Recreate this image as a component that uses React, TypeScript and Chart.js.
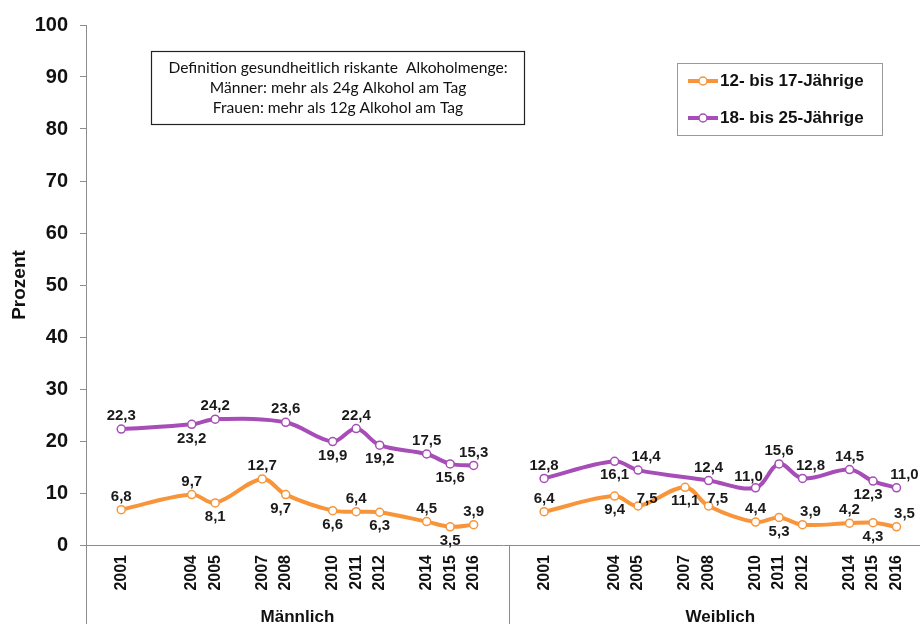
import React, { useEffect, useRef } from "react";
import { Chart, registerables } from "chart.js";

Chart.register(...registerables);

// ---------- data ----------
const years = [2001, 2004, 2005, 2007, 2008, 2010, 2011, 2012, 2014, 2015, 2016];
const groups = ["Männlich", "Weiblich"];
const groupSpan = 18; // years between the two groups on the shared axis
const seriesNames = ["12- bis 17-Jährige", "18- bis 25-Jährige"];
const young_m = [6.8, 9.7, 8.1, 12.7, 9.7, 6.6, 6.4, 6.3, 4.5, 3.5, 3.9];
const young_w = [6.4, 9.4, 7.5, 11.1, 7.5, 4.4, 5.3, 3.9, 4.2, 4.3, 3.5];
const adult_m = [22.3, 23.2, 24.2, null, 23.6, 19.9, 22.4, 19.2, 17.5, 15.6, 15.3];
const adult_w = [12.8, 16.1, 14.4, null, 12.4, 11.0, 15.6, 12.8, 14.5, 12.3, 11.0];
const yTickValues = [0, 10, 20, 30, 40, 50, 60, 70, 80, 90, 100];
const noteLines = [
  "Definition gesundheitlich riskante  Alkoholmenge:",
  "Männer: mehr als 24g Alkohol am Tag",
  "Frauen: mehr als 12g Alkohol am Tag",
];

// ---------- label placement (style) ----------
const young_m_pos = ["t", "t", "b", "t", "bl", "b", "t", "b", "t", "b", "t"];
const young_w_pos = ["t", "b", "r", "b", "r", "t", "b", "tr", "t", "b", "tr"];
const adult_m_pos = ["t", "b", "t", "-", "t", "b", "t", "b", "t", "b", "t"];
const adult_w_pos = ["t", "b", "tr", "-", "t", "tl", "t", "tr", "t", "bl", "tr"];
const OFFSETS: Record<string, [number, number]> = {
  t: [0, -13],
  b: [0, 14],
  tr: [8, -13],
  tl: [-7, -11],
  bl: [-5, 14],
  r: [9, -7],
};

const ORANGE = "#F8953A";
const PURPLE = "#A64DB7";
const AXIS = "#8c8c8c";
const FONT = "'Liberation Sans', Arial, sans-serif";

function buildPoints(vals: (number | null)[], pos: string[], offset: number) {
  const data: { x: number; y: number }[] = [];
  const labelPos: string[] = [];
  vals.forEach((v, i) => {
    if (v === null) return;
    data.push({ x: years[i] + offset, y: v });
    labelPos.push(pos[i]);
  });
  return { data, labelPos };
}

const fmt = (v: number) => v.toFixed(1).replace(".", ",");

export default function App() {
  const ref = useRef<HTMLCanvasElement | null>(null);

  useEffect(() => {
    if (!ref.current) return;
    const mk = (
      vals: (number | null)[],
      pos: string[],
      offset: number,
      color: string,
      label: string
    ) => {
      const { data, labelPos } = buildPoints(vals, pos, offset);
      return {
        label,
        data,
        labelPos,
        borderColor: color,
        backgroundColor: color,
        borderWidth: 4,
        tension: 0.35,
        pointRadius: 4,
        pointBorderWidth: 1.5,
        pointBackgroundColor: "#ffffff",
        pointBorderColor: color,
        fill: false,
      } as any;
    };

    const tickValues: number[] = [];
    groups.forEach((_, g) => years.forEach((y) => tickValues.push(y + g * groupSpan)));

    const xMin = years[0] - 1.5;
    const xMax = years[years.length - 1] + groupSpan + 1;

    const overlay = {
      id: "overlay",
      afterDraw(chart: any) {
        const ctx = chart.ctx as CanvasRenderingContext2D;
        const xs = chart.scales.x;
        const ca = chart.chartArea;
        ctx.save();
        // axis extension and group divider
        ctx.strokeStyle = AXIS;
        ctx.lineWidth = 1;
        ctx.beginPath();
        ctx.moveTo(Math.round(ca.left) + 0.5, ca.bottom);
        ctx.lineTo(Math.round(ca.left) + 0.5, chart.height);
        const divX = Math.round(xs.getPixelForValue(years[years.length - 1] + 1.5)) + 0.5;
        ctx.moveTo(divX, ca.bottom);
        ctx.lineTo(divX, chart.height);
        ctx.stroke();

        // group labels
        ctx.fillStyle = "#111";
        ctx.font = `bold 17px ${FONT}`;
        ctx.textAlign = "center";
        ctx.textBaseline = "alphabetic";
        groups.forEach((g, i) => {
          const mid = (years[0] + years[years.length - 1]) / 2 + i * groupSpan;
          ctx.fillText(g, xs.getPixelForValue(mid), 622);
        });

        // data labels
        ctx.font = `bold 15px ${FONT}`;
        ctx.textBaseline = "middle";
        ctx.fillStyle = "#1a1a1a";
        chart.data.datasets.forEach((ds: any, di: number) => {
          const meta = chart.getDatasetMeta(di);
          meta.data.forEach((el: any, i: number) => {
            const [ox, oy] = OFFSETS[ds.labelPos[i]] || [0, -13];
            ctx.fillText(fmt(ds.data[i].y), el.x + ox, el.y + oy);
          });
        });

        // note box
        const nb = { x: 151.5, y: 51.5, w: 373, h: 73 };
        ctx.fillStyle = "#fff";
        ctx.fillRect(nb.x, nb.y, nb.w, nb.h);
        ctx.strokeStyle = "#222";
        ctx.lineWidth = 1.2;
        ctx.strokeRect(nb.x, nb.y, nb.w, nb.h);
        ctx.fillStyle = "#111";
        ctx.font = `15.6px Lato, 'Open Sans', sans-serif`;
        ctx.textAlign = "center";
        ctx.textBaseline = "middle";
        noteLines.forEach((t, i) => ctx.fillText(t, nb.x + nb.w / 2, 68 + i * 20));

        // legend box
        const lb = { x: 677.5, y: 63.5, w: 205, h: 72 };
        ctx.fillStyle = "#fff";
        ctx.fillRect(lb.x, lb.y, lb.w, lb.h);
        ctx.strokeStyle = "#999";
        ctx.lineWidth = 1;
        ctx.strokeRect(lb.x, lb.y, lb.w, lb.h);
        const colors = [ORANGE, PURPLE];
        seriesNames.forEach((name, i) => {
          const cy = 81 + i * 37;
          ctx.strokeStyle = colors[i];
          ctx.lineWidth = 4;
          ctx.beginPath();
          ctx.moveTo(688, cy);
          ctx.lineTo(718, cy);
          ctx.stroke();
          ctx.beginPath();
          ctx.arc(703, cy, 4, 0, Math.PI * 2);
          ctx.fillStyle = "#fff";
          ctx.fill();
          ctx.lineWidth = 1.5;
          ctx.stroke();
          ctx.fillStyle = "#111";
          ctx.font = `bold 17px ${FONT}`;
          ctx.textAlign = "left";
          ctx.textBaseline = "middle";
          ctx.fillText(name, 720, cy);
        });
        ctx.restore();
      },
    };

    const chart = new Chart(ref.current, {
      type: "line",
      data: {
        datasets: [
          mk(young_m, young_m_pos, 0, ORANGE, seriesNames[0]),
          mk(young_w, young_w_pos, groupSpan, ORANGE, seriesNames[0]),
          mk(adult_m, adult_m_pos, 0, PURPLE, seriesNames[1]),
          mk(adult_w, adult_w_pos, groupSpan, PURPLE, seriesNames[1]),
        ],
      },
      options: {
        responsive: false,
        animation: false,
        layout: { autoPadding: false, padding: { top: 25, right: 0, left: 0, bottom: 0 } },
        plugins: { legend: { display: false }, tooltip: { enabled: false } },
        scales: {
          x: {
            type: "linear",
            min: xMin,
            max: xMax,
            afterBuildTicks: (scale: any) => {
              scale.ticks = tickValues.map((v) => ({ value: v }));
            },
            afterFit: (scale: any) => {
              scale.height = 79;
              scale.paddingLeft = 0;
              scale.paddingRight = 0;
            },
            ticks: {
              autoSkip: false,
              minRotation: 90,
              maxRotation: 90,
              padding: 10,
              color: "#111",
              font: { family: FONT, size: 16, weight: "bold" },
              callback: (v: any) => String(v > years[years.length - 1] + 1 ? v - groupSpan : v),
            },
            grid: { display: false, drawTicks: false },
            border: { display: true, color: AXIS, width: 1 },
          },
          y: {
            min: 0,
            max: 100,
            afterBuildTicks: (scale: any) => {
              scale.ticks = yTickValues.map((v) => ({ value: v }));
            },
            afterFit: (scale: any) => {
              scale.width = 86;
            },
            ticks: {
              padding: 12,
              color: "#111",
              font: { family: FONT, size: 20, weight: "bold" },
            },
            grid: { drawOnChartArea: false, drawTicks: true, tickLength: 6, color: AXIS },
            border: { display: true, color: AXIS, width: 1 },
            title: {
              display: true,
              text: "Prozent",
              color: "#111",
              font: { family: FONT, size: 19, weight: "bold" },
              padding: { top: 8, bottom: 0 },
            },
          },
        },
      } as any,
      plugins: [overlay],
    });
    return () => chart.destroy();
  }, []);

  return (
    <div style={{ position: "absolute", left: 0, top: 0, width: 920, height: 624, background: "#fff" }}>
      <canvas ref={ref} width={920} height={624} style={{ width: 920, height: 624, display: "block" }} />
    </div>
  );
}
